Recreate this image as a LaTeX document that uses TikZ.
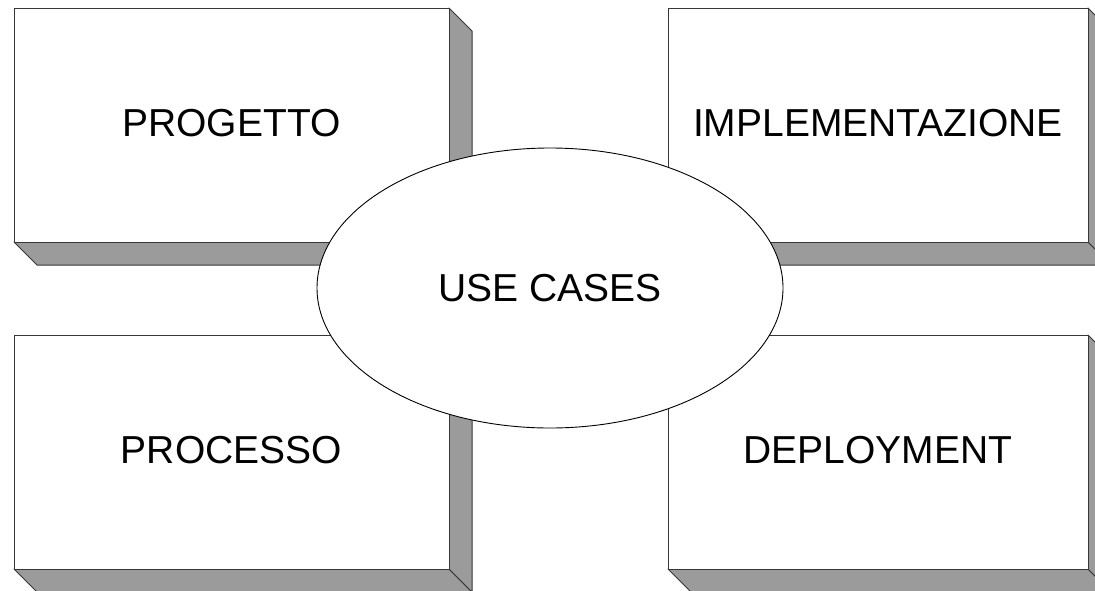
\documentclass[tikz,border=0pt]{standalone}
\usepackage{fontspec}
\setmainfont{Liberation Sans}
\usetikzlibrary{shapes.geometric}
\definecolor{sidegray}{RGB}{155,155,155}
\definecolor{edgegray}{RGB}{55,55,55}
\begin{document}
\begin{tikzpicture}[x=1pt,y=-1pt]
\tikzset{
  sideface/.style={fill=sidegray, draw=edgegray, line width=1pt, line join=round},
  frontface/.style={fill=white, draw=edgegray, line width=1pt},
  boxtext/.style={font=\fontsize{39}{47}\selectfont, text=black, inner sep=0pt},
  centreoval/.style={ellipse, draw=black, fill=white, line width=0.9pt, inner sep=0pt,
    minimum width=466pt, minimum height=280pt, font=\fontsize{39}{47}\selectfont}
}
\useasboundingbox (0,0) rectangle (1095,590);
\clip (0,0) rectangle (1095,590);
% four raised blocks: front face with a shaded side and bottom
\foreach \x/\y/\w/\h/\n/\t in {
  14/8/435/234/progetto/PROGETTO,
  668/8/420/234/implementazione/IMPLEMENTAZIONE,
  14/335/435/234/processo/PROCESSO,
  668/335/420/234/deployment/DEPLOYMENT}{
  \draw[sideface] (\x,{\y+\h}) -- ++(\w,0) -- ++(23,23) -- ++(-\w,0) -- cycle;
  \draw[sideface] ({\x+\w},\y) -- ++(23,23) -- ++(0,\h) -- ++(-23,-23) -- cycle;
  \draw[frontface] (\x,\y) rectangle ++(\w,\h);
  \node[boxtext] (\n) at ({\x+\w/2},{\y+\h/2-2}) {\t};
}
% central use-case oval
\node[centreoval] (usecases) at (550,288) {USE CASES};
\end{tikzpicture}
\end{document}
